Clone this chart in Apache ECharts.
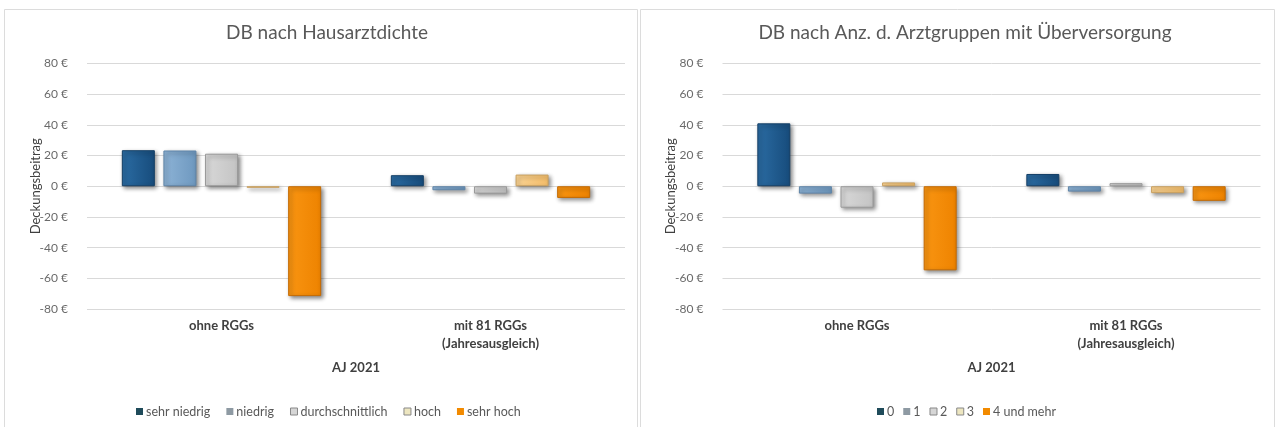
<!DOCTYPE html>
<html>
<head>
<meta charset="utf-8">
<script src="https://cdn.jsdelivr.net/npm/echarts@6/dist/echarts.min.js"></script>
<style>
html,body{margin:0;padding:0;background:#fff;}
#c{width:1277px;height:427px;}
</style>
</head>
<body>
<div id="c"></div>
<script>
// ---- Data ----
const categories = ['ohne RGGs', 'mit 81 RGGs\n(Jahresausgleich)'];
const yTicks = [-80, -60, -40, -20, 0, 20, 40, 60, 80];

const leftTitle = 'DB nach Hausarztdichte';
const leftNames = ['sehr niedrig', 'niedrig', 'durchschnittlich', 'hoch', 'sehr hoch'];
const leftSehrNiedrig = [23.5, 7.2];
const leftNiedrig = [23.3, -2.6];
const leftDurchschnittlich = [21.2, -4.8];
const leftHoch = [-1.0, 7.6];
const leftSehrHoch = [-71.6, -7.6];

const rightTitle = 'DB nach Anz. d. Arztgruppen mit Überversorgung';
const rightNames = ['0', '1', '2', '3', '4 und mehr'];
const right0 = [41.0, 8.0];
const right1 = [-4.8, -3.5];
const right2 = [-14.0, 2.0];
const right3 = [2.5, -4.5];
const right4 = [-54.8, -9.5];

const yAxisName = 'Deckungsbeitrag';
const xAxisName = 'AJ 2021';

// ---- Styles ----
const FONT = 'Lato, "Open Sans", sans-serif';
const colors = [
  { fill: ['#2B6CA3', '#174C7C'], border: '#143F66' },
  { fill: ['#8DB3D6', '#6E98BF'], border: '#5F84A8' },
  { fill: ['#D8D8D8', '#C4C4C4'], border: '#9A9A9A' },
  { fill: ['#FBD494', '#F5BE6A'], border: '#C9A060' },
  { fill: ['#F99512', '#EE8300'], border: '#C56A00' }
];
const legendColors = ['#1F4B5A', '#8E9AA3', '#D6D6D6', '#EDE6C0', '#F28A00'];

function grad(c) {
  return new echarts.graphic.LinearGradient(0, 0, 1, 0, [
    { offset: 0, color: c[0] }, { offset: 1, color: c[1] }
  ]);
}

function makeSeries(names, arrays, idx) {
  return names.map((n, i) => ({
    name: n,
    type: 'bar',
    xAxisIndex: idx,
    yAxisIndex: idx,
    data: arrays[i],
    barWidth: 33,
    barGap: '26%',
    itemStyle: {
      color: grad(colors[i].fill),
      borderColor: colors[i].border,
      borderWidth: 1,
      shadowBlur: 4,
      shadowOffsetX: 2,
      shadowOffsetY: 2,
      shadowColor: 'rgba(0,0,0,0.45)'
    },
    emphasis: { disabled: true }
  }));
}

const leftSeries = makeSeries(leftNames, [leftSehrNiedrig, leftNiedrig, leftDurchschnittlich, leftHoch, leftSehrHoch], 0);
const rightSeries = makeSeries(rightNames, [right0, right1, right2, right3, right4], 1);

function xAxisCfg(idx) {
  return {
    type: 'category',
    gridIndex: idx,
    data: categories,
    axisLine: { show: false },
    axisTick: { show: false },
    axisLabel: {
      interval: 0,
      margin: 8,
      fontFamily: FONT,
      fontSize: 13,
      fontWeight: 'bold',
      color: '#404040',
      lineHeight: 18
    },
    name: xAxisName,
    nameLocation: 'middle',
    nameGap: 52,
    nameMoveOverlap: false,
    nameTextStyle: { fontFamily: FONT, fontSize: 13, fontWeight: 'bold', color: '#404040' }
  };
}
function yAxisCfg(idx) {
  return {
    type: 'value',
    gridIndex: idx,
    min: yTicks[0],
    max: yTicks[yTicks.length - 1],
    interval: yTicks[1] - yTicks[0],
    axisLine: { show: false },
    axisTick: { show: false },
    splitLine: { lineStyle: { color: '#D9D9D9', width: 1 } },
    axisLabel: {
      formatter: v => v + ' €',
      fontFamily: FONT,
      fontSize: 12,
      color: '#6A6A6A',
      margin: 19
    },
    name: yAxisName,
    nameLocation: 'middle',
    nameGap: 45,
    nameMoveOverlap: false,
    nameRotate: 90,
    nameTextStyle: { fontFamily: FONT, fontSize: 13, color: '#404040' }
  };
}
function legendCfg(names, left, gap) {
  return {
    data: names.map((n, i) => ({ name: n, itemStyle: { color: legendColors[i], borderColor: '#888', borderWidth: i >= 2 && i <= 3 ? 1 : 0 } })),
    left: left,
    top: 400,
    itemWidth: 7,
    itemHeight: 7,
    itemGap: gap,
    icon: 'rect',
    textStyle: { fontFamily: FONT, fontSize: 12.5, color: '#595959', padding: [0, 0, 0, -2] },
    selectedMode: false
  };
}

const chart = echarts.init(document.getElementById('c'), null, { renderer: 'canvas' });
chart.setOption({
  animation: false,
  backgroundColor: '#fff',
  graphic: [
    { type: 'rect', shape: { x: 4.5, y: 9.5, width: 633, height: 420 }, style: { fill: 'none', stroke: '#DCDCDC', lineWidth: 1 }, silent: true },
    { type: 'rect', shape: { x: 640.5, y: 9.5, width: 634, height: 420 }, style: { fill: 'none', stroke: '#DCDCDC', lineWidth: 1 }, silent: true }
  ],
  title: [
    { text: leftTitle, left: 322, top: 18, textAlign: 'center', textStyle: { fontFamily: FONT, fontSize: 19, fontWeight: 'normal', color: '#595959' } },
    { text: rightTitle, left: 960, top: 18, textAlign: 'center', textStyle: { fontFamily: FONT, fontSize: 19, fontWeight: 'normal', color: '#595959' } }
  ],
  legend: [legendCfg(leftNames, 131, 16), legendCfg(rightNames, 872, 9)],
  grid: [
    { left: 87, right: 652, top: 63.5, bottom: 118 },
    { left: 722.5, right: 16.5, top: 63.5, bottom: 118 }
  ],
  xAxis: [xAxisCfg(0), xAxisCfg(1)],
  yAxis: [yAxisCfg(0), yAxisCfg(1)],
  series: leftSeries.concat(rightSeries)
});
</script>
</body>
</html>
